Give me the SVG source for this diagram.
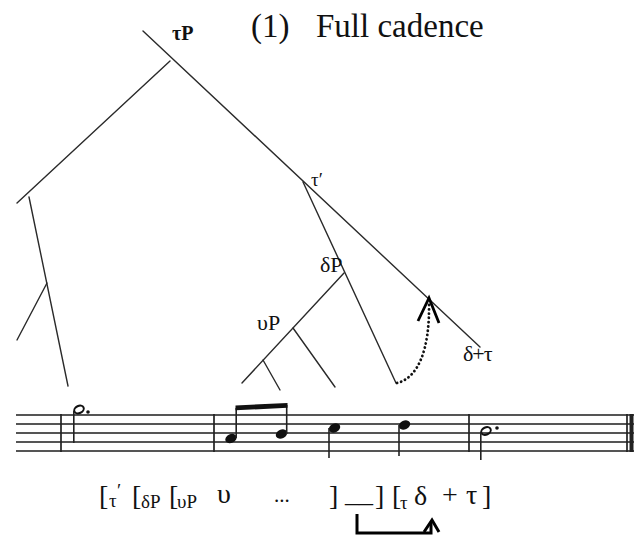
<svg xmlns="http://www.w3.org/2000/svg" width="640" height="535" viewBox="0 0 640 535">
<style>
.tree{stroke:#2a2a2a;stroke-width:1.4;fill:none;stroke-linecap:round}
.lbl{font-family:"Liberation Serif","Times New Roman",serif;fill:#111}
.staff{stroke:#555;stroke-width:2}
.bar{stroke:#222;stroke-width:1.7}
.stem{stroke:#222;stroke-width:1.6}
.head{fill:#111}
.ohead{fill:none;stroke:#111;stroke-width:2}
.br{font-family:"Liberation Serif","Times New Roman",serif;fill:#111;font-size:28px}
.sub{font-family:"Liberation Serif","Times New Roman",serif;fill:#111;font-size:19px}
.conn{stroke:#000;stroke-width:3;fill:none}
</style>
<rect width="640" height="535" fill="#fff"/>
<g id="title">
<text class="lbl" x="251" y="37" font-size="33">(1)</text>
<text class="lbl" x="316" y="37" font-size="33">Full cadence</text>
</g>
<g id="connectors">
<path class="tree" d="M143,31 L480,347"/>
<path class="tree" d="M170,61 L17,203"/>
<path class="tree" d="M29,197 L68,386"/>
<path class="tree" d="M47,283 L17,340"/>
<path class="tree" d="M303,182 L396,383"/>
<path class="tree" d="M344,273 L242,383"/>
<path class="tree" d="M293,328 L335,387"/>
<path class="tree" d="M263,360 L280,390"/>
<path d="M397,383 C418,378 430,350 429,302" fill="none" stroke="#111" stroke-width="2.8" stroke-dasharray="0.1 4.2" stroke-linecap="round"/>
<path d="M418,321 L429,298 L439,323" fill="none" stroke="#000" stroke-width="2.8"/>
<path class="conn" d="M357,514 V533 H431 V523"/>
<path d="M424,532 L432,520 L439,532" fill="none" stroke="#000" stroke-width="3"/>
</g>
<g id="node-tauP"><text class="lbl" x="172" y="40" font-size="20" font-weight="bold">τP</text></g>
<g id="node-tauPrime"><text class="lbl" x="311" y="186" font-size="19">τ′</text></g>
<g id="node-deltaP"><text class="lbl" x="320" y="272" font-size="22">δP</text></g>
<g id="node-upsilonP"><text class="lbl" x="257" y="330" font-size="22">υP</text></g>
<g id="node-deltaPlusTau"><text class="lbl" x="463" y="361" font-size="22" fill="#444" letter-spacing="-1">δ+τ</text></g>
<g id="staff">
<line class="staff" x1="16" y1="415" x2="634" y2="415"/>
<line class="staff" x1="16" y1="424" x2="634" y2="424"/>
<line class="staff" x1="16" y1="433" x2="634" y2="433"/>
<line class="staff" x1="16" y1="442" x2="634" y2="442"/>
<line class="staff" x1="16" y1="451" x2="634" y2="451"/>
<line class="bar" x1="61" y1="414" x2="61" y2="452"/>
<line class="bar" x1="214" y1="414" x2="214" y2="452"/>
<line class="bar" x1="469" y1="414" x2="469" y2="452"/>
<line class="bar" x1="627" y1="414" x2="627" y2="452"/>
<line x1="631.5" y1="414" x2="631.5" y2="452" stroke="#222" stroke-width="4"/>
<ellipse class="ohead" cx="79" cy="409.5" rx="5" ry="3.6" transform="rotate(-25 79 409.5)"/>
<line class="stem" x1="73.8" y1="411" x2="73.8" y2="443"/>
<circle cx="88" cy="412" r="1.8" fill="#111"/>
<ellipse class="head" cx="231" cy="438.5" rx="6" ry="4.3" transform="rotate(-25 231 438.5)"/>
<line class="stem" x1="236.2" y1="438" x2="236.2" y2="408"/>
<ellipse class="head" cx="281.5" cy="434" rx="6" ry="4.3" transform="rotate(-25 281.5 434)"/>
<line class="stem" x1="286.7" y1="434" x2="286.7" y2="405"/>
<polygon points="235.5,405.5 287.5,403 287.5,407.8 235.5,410.3" fill="#111"/>
<ellipse class="head" cx="334.5" cy="428" rx="6" ry="4.3" transform="rotate(-25 334.5 428)"/>
<line class="stem" x1="329" y1="428" x2="329" y2="458"/>
<ellipse class="head" cx="404.5" cy="425" rx="6" ry="4.3" transform="rotate(-25 404.5 425)"/>
<line class="stem" x1="399" y1="425" x2="399" y2="456"/>
<ellipse class="ohead" cx="486" cy="431" rx="5" ry="3.6" transform="rotate(-25 486 431)"/>
<line class="stem" x1="480.8" y1="432" x2="480.8" y2="460"/>
<circle cx="497" cy="428" r="1.8" fill="#111"/>
</g>
<g id="bracketing">
<text class="br" x="99" y="505">[</text>
<text class="sub" x="109" y="507" font-size="17">τ</text>
<text class="sub" x="117" y="497" font-size="17">′</text>
<text class="br" x="132" y="505">[</text>
<text class="sub" x="141" y="508">δP</text>
<text class="br" x="169" y="505">[</text>
<text class="sub" x="177" y="508">υP</text>
<text class="br" x="217" y="503">υ</text>
<text class="lbl" x="274" y="502" font-size="21">...</text>
<text class="br" x="329" y="505">]</text>
<text class="br" x="345" y="502">__</text>
<text class="br" x="375" y="505">]</text>
<text class="br" x="392" y="505">[</text>
<text class="sub" x="400" y="509" font-size="17">τ</text>
<text class="br" x="414" y="505">δ</text>
<text class="br" x="442" y="504">+</text>
<text class="br" x="466" y="504">τ</text>
<text class="br" x="482" y="505">]</text>
</g>
</svg>
